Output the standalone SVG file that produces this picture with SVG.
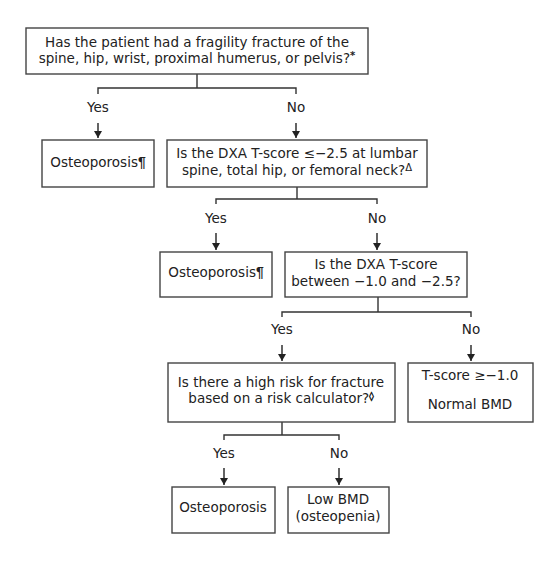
<svg xmlns="http://www.w3.org/2000/svg" width="552" height="564" viewBox="0 0 552 564">
<defs>
<marker id="ah" markerWidth="8" markerHeight="8" refX="7" refY="4" orient="auto" markerUnits="userSpaceOnUse">
<path d="M0,0 L7,4 L0,8 Z" fill="#222"/>
</marker>
<style>
.box{fill:#fff;stroke:#444;stroke-width:1.4}
.t{font-family:"DejaVu Sans",Verdana,sans-serif;font-size:13.5px;fill:#222;text-anchor:middle}
.ln{fill:none;stroke:#333;stroke-width:1.4}
.ar{fill:none;stroke:#222;stroke-width:1.4;marker-end:url(#ah)}
.sup{font-size:10px;font-weight:bold}
.supn{font-size:10px}
.pil{font-family:"Liberation Sans",sans-serif;font-weight:bold;font-size:14px;fill:#222}
.dia{font-family:"DejaVu Sans",sans-serif;font-size:9px;stroke:#222;stroke-width:0.5}
</style>
</defs>
<rect width="552" height="564" fill="#fff"/>
<g id="connectors">
<path class="ln" d="M197,74 V88 M98,94 V88 H296 V94"/>
<text class="t" x="98" y="112">Yes</text>
<text class="t" x="296" y="112">No</text>
<path class="ar" d="M98,123 V138"/>
<path class="ar" d="M296,123 V138"/>
<path class="ln" d="M297,187 V199 M216,204 V199 H377 V204"/>
<text class="t" x="216" y="223">Yes</text>
<text class="t" x="377" y="223">No</text>
<path class="ar" d="M216,233 V250"/>
<path class="ar" d="M377,233 V250"/>
<path class="ln" d="M378,297 V312 M282,317 V312 H471 V317"/>
<text class="t" x="282" y="334">Yes</text>
<text class="t" x="471" y="334">No</text>
<path class="ar" d="M282,345 V361"/>
<path class="ar" d="M471,345 V361"/>
<path class="ln" d="M282,422 V435 M224,440 V435 H339 V440"/>
<text class="t" x="224" y="458">Yes</text>
<text class="t" x="339" y="458">No</text>
<path class="ar" d="M224,468 V485"/>
<path class="ar" d="M339,468 V485"/>
</g>
<g id="q1">
<rect class="box" x="26" y="28" width="342" height="46"/>
<text class="t" x="197" y="47">Has the patient had a fragility fracture of the</text>
<text class="t" x="197" y="63">spine, hip, wrist, proximal humerus, or pelvis?<tspan class="sup" dy="-4">*</tspan></text>
</g>
<g id="osteo1">
<rect class="box" x="42" y="140" width="112" height="47"/>
<text class="t" x="98" y="167">Osteoporosis<tspan class="pil">¶</tspan></text>
</g>
<g id="q2">
<rect class="box" x="167" y="140" width="260" height="47"/>
<text class="t" x="297" y="158">Is the DXA T-score ≤−2.5 at lumbar</text>
<text class="t" x="297" y="175">spine, total hip, or femoral neck?<tspan class="supn" dy="-4">Δ</tspan></text>
</g>
<g id="osteo2">
<rect class="box" x="160" y="252" width="112" height="45"/>
<text class="t" x="216" y="277">Osteoporosis<tspan class="pil">¶</tspan></text>
</g>
<g id="q3">
<rect class="box" x="285" y="252" width="182" height="45"/>
<text class="t" x="376" y="269">Is the DXA T-score</text>
<text class="t" x="376" y="286">between −1.0 and −2.5?</text>
</g>
<g id="q4">
<rect class="box" x="168" y="363" width="227" height="59"/>
<text class="t" x="281" y="387">Is there a high risk for fracture</text>
<text class="t" x="281" y="403">based on a risk calculator?<tspan class="dia" dy="-4">◊</tspan></text>
</g>
<g id="normal">
<rect class="box" x="408" y="363" width="125" height="59"/>
<text class="t" x="470" y="380">T-score ≥−1.0</text>
<text class="t" x="470" y="409">Normal BMD</text>
</g>
<g id="osteo3">
<rect class="box" x="172" y="487" width="103" height="46"/>
<text class="t" x="223" y="512">Osteoporosis</text>
</g>
<g id="lowbmd">
<rect class="box" x="288" y="487" width="101" height="46"/>
<text class="t" x="338" y="504">Low BMD</text>
<text class="t" x="338" y="521">(osteopenia)</text>
</g>
</svg>
